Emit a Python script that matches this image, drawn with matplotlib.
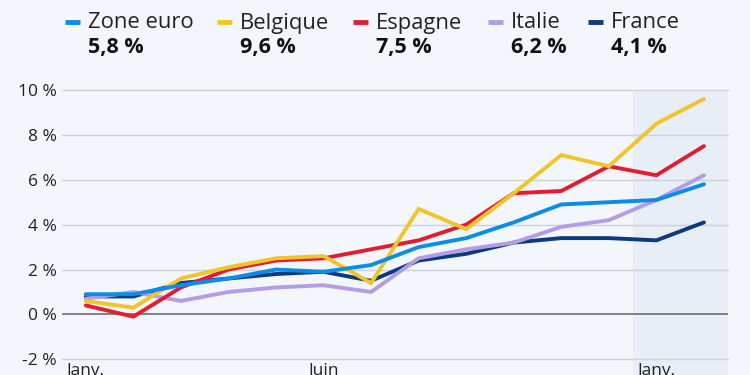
import matplotlib
matplotlib.use("Agg")
import matplotlib.pyplot as plt
from matplotlib.lines import Line2D
import numpy as np

plt.rcParams['font.family'] = ['Open Sans', 'DejaVu Sans']

# inflation harmonisée, glissement annuel (%), janv. 2021 -> févr. 2022
months = ['Janv.', 'Févr.', 'Mars', 'Avr.', 'Mai', 'Juin', 'Juil.', 'Août',
          'Sept.', 'Oct.', 'Nov.', 'Déc.', 'Janv.', 'Févr.']
zone_euro = [0.9, 0.9, 1.3, 1.6, 2.0, 1.9, 2.2, 3.0, 3.4, 4.1, 4.9, 5.0, 5.1, 5.8]
belgique = [0.6, 0.3, 1.6, 2.1, 2.5, 2.6, 1.4, 4.7, 3.8, 5.4, 7.1, 6.6, 8.5, 9.6]
espagne = [0.4, -0.1, 1.2, 2.0, 2.4, 2.5, 2.9, 3.3, 4.0, 5.4, 5.5, 6.6, 6.2, 7.5]
italie = [0.7, 1.0, 0.6, 1.0, 1.2, 1.3, 1.0, 2.5, 2.9, 3.2, 3.9, 4.2, 5.1, 6.2]
france = [0.8, 0.8, 1.4, 1.6, 1.8, 1.9, 1.5, 2.4, 2.7, 3.2, 3.4, 3.4, 3.3, 4.1]

names = ['Zone euro', 'Belgique', 'Espagne', 'Italie', 'France']
series = [zone_euro, belgique, espagne, italie, france]
colors = ['#0a8de6', '#f0c52c', '#e11d34', '#b39de6', '#0b3a7e']
yticks = [-2, 0, 2, 4, 6, 8, 10]
shown_ticks = [0, 5, 12]

bg = '#f3f6fa'
fig = plt.figure(figsize=(7.5, 3.75), dpi=100, facecolor=bg)
ax = fig.add_axes([0.0827, 0.0, 0.8876, 0.76], facecolor=bg)

x = np.arange(len(months))
ax.set_xlim(-0.5, len(months) - 0.5)
ax.set_ylim(-2.7, 10)

# zone grisée : dernière année
ax.axvspan(11.5, len(months) - 0.5, color='#e8eef5', zorder=0, lw=0)

for v in yticks:
    if v == 0:
        ax.axhline(v, color='#74787d', lw=1.3, zorder=1)
    else:
        ax.axhline(v, color='#cdd2d8', lw=1.0, zorder=1, clip_on=False)

# ordre de tracé : France et Italie derrière
order = [4, 3, 2, 1, 0]
for i in order:
    ax.plot(x, series[i], color=colors[i], lw=2.8, zorder=3,
            solid_joinstyle='miter', solid_capstyle='round')

for s in ax.spines.values():
    s.set_visible(False)
ax.set_yticks(yticks)
ax.set_yticklabels([f'{v} %' for v in yticks], fontsize=12.5, color='#222222')
ax.tick_params(axis='y', length=0, pad=4)
ax.set_xticks([])
# étiquettes du bas, coupées par le bord comme dans l'original
for i in shown_ticks:
    ax.text(x[i], -2.15, months[i], ha='center', va='top', fontsize=12.5,
            color='#222222', clip_on=False)

# légende en haut
leg_marker_x = [65, 217, 353, 488, 588]
for i, name in enumerate(names):
    x0 = leg_marker_x[i] / 750
    fig.add_artist(Line2D([x0, x0 + 15 / 750], [1 - 22 / 375] * 2,
                          color=colors[i], lw=3.5, solid_capstyle='butt'))
    fig.text(x0 + 23 / 750, 1 - 23 / 375, name, fontsize=15.8, color='#222222',
             ha='left', va='center')
    fig.text(x0 + 23 / 750, 1 - 48 / 375, f'{series[i][-1]:.1f} %'.replace('.', ','),
             fontsize=15.5, fontweight='bold', color='#111111',
             ha='left', va='center')

fig.savefig('out.png', dpi=100, facecolor=bg)
